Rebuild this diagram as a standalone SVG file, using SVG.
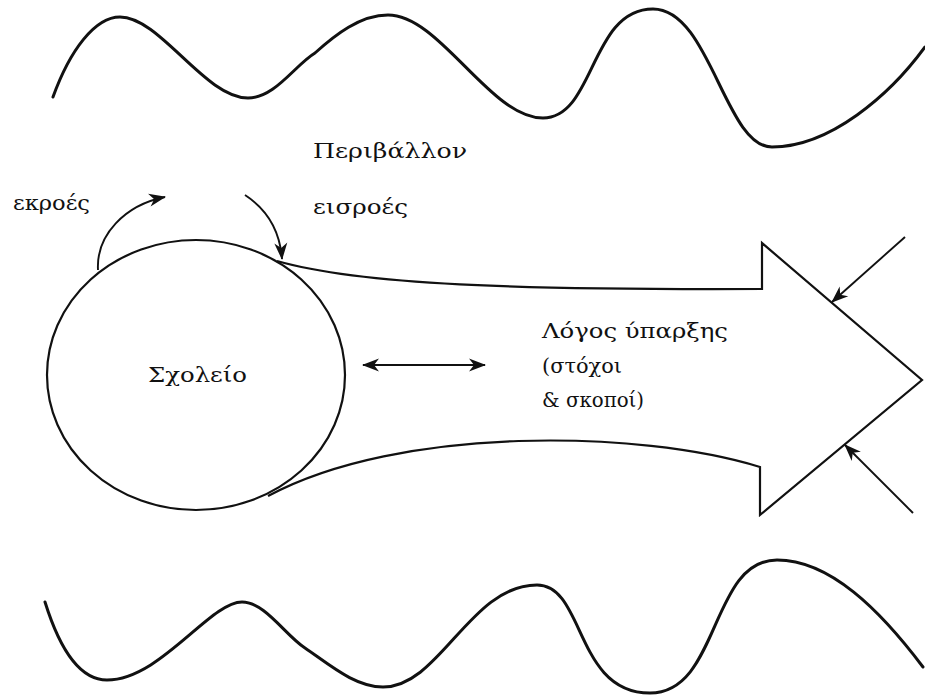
<svg xmlns="http://www.w3.org/2000/svg" width="925" height="696" viewBox="0 0 925 696">
  <style>
    .wave { fill: none; stroke: #111; stroke-width: 3; stroke-linecap: round; }
    .shape { fill: none; stroke: #111; stroke-width: 2.2; stroke-linejoin: miter; }
    .conn { fill: none; stroke: #111; stroke-width: 1.9; }
    .lbl { font-family: "DejaVu Serif", "Liberation Serif", serif; font-size: 21px; fill: #111; }
  </style>
  <defs>
    <marker id="ah" viewBox="-17 -7 19 14" refX="0" refY="0" markerWidth="19" markerHeight="14" markerUnits="userSpaceOnUse" orient="auto-start-reverse">
      <path d="M1,0 L-16,-6.5 L-11,0 L-16,6.5 Z" fill="#111"/>
    </marker>
  </defs>
  <rect width="925" height="696" fill="#ffffff"/>

  <g id="environment-top">
    <path class="wave" d="M 53 97 C 70 50, 95 17, 120 17 C 160 17, 205 98, 248 98 C 275 98, 295 65, 315 53 C 335 35, 360 15, 388 15 C 440 15, 490 118, 543 118 C 595 118, 590 9, 653 9 C 710 9, 725 147, 772 147 C 830 147, 890 95, 925 47"/>
  </g>
  <g id="environment-bottom">
    <path class="wave" d="M 45 602 C 60 650, 80 680, 107 680 C 160 680, 210 602, 242 602 C 265 602, 285 635, 305 648 C 330 665, 355 687, 383 687 C 440 687, 470 585, 537 585 C 585 585, 575 693, 650 693 C 720 693, 710 560, 777 560 C 830 560, 880 610, 923 667"/>
  </g>

  <g id="purpose-arrow">
    <path class="shape" d="M 277 261 C 360 285, 520 290, 762 289 L 762 243 L 922 380 L 760 515 L 760 467 C 640 430, 400 425, 268 496"/>
    <text class="lbl" x="542" y="338" textLength="186" lengthAdjust="spacingAndGlyphs">Λόγος ύπαρξης</text>
    <text class="lbl" x="542" y="373" textLength="80" lengthAdjust="spacingAndGlyphs">(στόχοι</text>
    <text class="lbl" x="542" y="407" textLength="102" lengthAdjust="spacingAndGlyphs">&amp; σκοποί)</text>
  </g>

  <g id="school">
    <ellipse class="shape" cx="196" cy="375" rx="149" ry="135" stroke-width="2.6"/>
    <text class="lbl" x="148" y="382" textLength="99" lengthAdjust="spacingAndGlyphs">Σχολείο</text>
  </g>

  <g id="labels">
    <text class="lbl" x="313" y="158" textLength="154" lengthAdjust="spacingAndGlyphs">Περιβάλλον</text>
    <text class="lbl" x="313" y="214" textLength="95" lengthAdjust="spacingAndGlyphs">εισροές</text>
    <text class="lbl" x="13" y="210" textLength="77" lengthAdjust="spacingAndGlyphs">εκροές</text>
  </g>

  <g id="connectors">
    <path class="conn" d="M 98 270 C 96 235, 125 205, 165 197" marker-end="url(#ah)"/>
    <path class="conn" d="M 245 195 C 268 210, 280 232, 282 259" marker-end="url(#ah)"/>
    <path class="conn" d="M 363 365 L 485 365" marker-start="url(#ah)" marker-end="url(#ah)"/>
    <path class="conn" d="M 905 237 L 832 302" marker-end="url(#ah)"/>
    <path class="conn" d="M 913 513 L 845 445" marker-end="url(#ah)"/>
  </g>
</svg>
